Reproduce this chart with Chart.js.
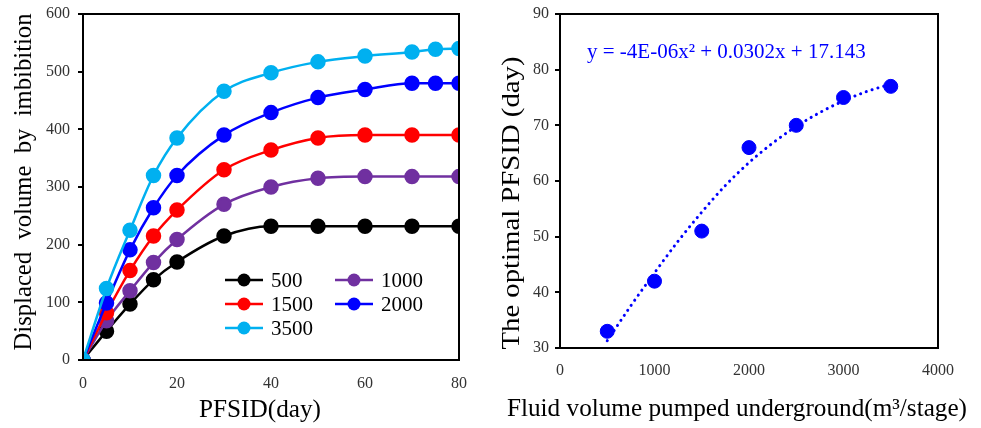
<!DOCTYPE html>
<html>
<head>
<meta charset="utf-8">
<script src="https://cdn.jsdelivr.net/npm/chart.js@4"></script>
<style>
  body { margin: 0; background: #fff; }
  #wrap { position: relative; width: 981px; height: 428px; }
  .box { position: absolute; top: 0; height: 428px; }
</style>
</head>
<body>
<div id="wrap">
  <div class="box" style="left:0;width:490px"><canvas id="left"></canvas></div>
  <div class="box" style="left:490px;width:491px"><canvas id="right"></canvas></div>
</div>
<script>
// left chart: displaced volume vs PFSID
const days_long = [0, 5, 10, 15, 20, 30, 40, 50, 60, 70, 75, 80];
const days_short = [0, 5, 10, 15, 20, 30, 40, 50, 60, 70, 80];
const v500 = [0, 50, 97, 139, 170, 215, 232, 232, 232, 232, 232];
const v1000 = [0, 68, 120, 169, 209, 270, 300, 315, 318, 318, 318];
const v1500 = [0, 82, 155, 215, 260, 330, 364, 385, 390, 390, 390];
const v2000 = [0, 99, 191, 264, 320, 390, 429, 455, 469, 480, 480, 480];
const v3500 = [0, 124, 225, 320, 385, 466, 498, 517, 527, 534, 539, 540];

// right chart: optimal PFSID vs fluid volume
const fluidVol = [500, 1000, 1500, 2000, 2500, 3000, 3500];
const optPFSID = [33, 42, 51, 66, 70, 75, 77];
// dotted trendline
const trendX = [500, 750, 1000, 1250, 1500, 1750, 2000, 2250, 2500, 2750, 3000, 3250, 3500];
const trendY = [31.3, 37.6, 43.5, 49.2, 54.4, 59.2, 63.3, 66.8, 69.8, 72.3, 74.4, 76.1, 77.4];

const serif = "'Liberation Serif', 'Times New Roman', serif";

function pts(xs, ys) {
  return ys.map((y, i) => ({x: xs[i], y: y}));
}

// box around the plot area
const frame = {
  id: 'frame',
  afterDatasetsDraw(chart) {
    const a = chart.chartArea, ctx = chart.ctx;
    ctx.save();
    ctx.strokeStyle = '#000';
    ctx.lineWidth = 2;
    ctx.strokeRect(a.left, a.top, a.right - a.left, a.bottom - a.top);
    ctx.restore();
  }
};

// axis titles, stretched along their length like in the original figure
function stretchedText(ctx, text, cx, cy, size, len, vertical) {
  ctx.save();
  ctx.font = size + 'px ' + serif;
  ctx.fillStyle = '#000';
  ctx.textAlign = 'center';
  ctx.textBaseline = 'middle';
  const w = ctx.measureText(text).width;
  ctx.translate(cx, cy);
  if (vertical) ctx.rotate(-Math.PI / 2);
  ctx.scale(len / w, 1);
  ctx.fillText(text, 0, 0);
  ctx.restore();
}

const axisTitles = {
  id: 'axisTitles',
  afterDraw(chart, args, opts) {
    const ctx = chart.ctx;
    opts.items.forEach(t => stretchedText(ctx, t.text, t.cx, t.cy, t.size, t.len, t.vertical));
  }
};

const leftSeries = [
  {label: '500', xs: days_short, ys: v500, color: '#000000'},
  {label: '1000', xs: days_short, ys: v1000, color: '#7030A0'},
  {label: '1500', xs: days_short, ys: v1500, color: '#FF0000'},
  {label: '2000', xs: days_long, ys: v2000, color: '#0000FF'},
  {label: '3500', xs: days_long, ys: v3500, color: '#00B0F0'}
];

// legend drawn inside the plot, two columns
const innerLegend = {
  id: 'innerLegend',
  afterDraw(chart) {
    const ctx = chart.ctx, a = chart.chartArea;
    const x0 = a.left + 142, y0 = a.top + 266;
    ctx.save();
    ctx.font = '21px ' + serif;
    ctx.textBaseline = 'middle';
    chart.data.datasets.forEach((ds, i) => {
      const col = i % 2, row = Math.floor(i / 2);
      const x = x0 + col * 110, y = y0 + row * 24;
      ctx.strokeStyle = ds.borderColor;
      ctx.lineWidth = 2.5;
      ctx.beginPath(); ctx.moveTo(x, y); ctx.lineTo(x + 38, y); ctx.stroke();
      ctx.fillStyle = ds.borderColor;
      ctx.beginPath(); ctx.arc(x + 19, y, 6.5, 0, Math.PI * 2); ctx.fill();
      ctx.fillStyle = '#000';
      ctx.fillText(ds.label, x + 46, y + 1);
    });
    ctx.restore();
  }
};

const plain = v => String(v);

new Chart(document.getElementById('left'), {
  type: 'line',
  data: {
    datasets: leftSeries.map(s => ({
      label: s.label,
      data: pts(s.xs, s.ys),
      borderColor: s.color,
      backgroundColor: s.color,
      borderWidth: 2.5,
      pointRadius: 6.5,
      pointHoverRadius: 6.5,
      cubicInterpolationMode: 'monotone',
      order: 5 - leftSeries.indexOf(s)
    }))
  },
  options: {
    responsive: true,
    maintainAspectRatio: false,
    animation: false,
    events: [],
    layout: {padding: {top: 14, right: 31, left: 0, bottom: 0}},
    plugins: {
      legend: {display: false}, tooltip: {enabled: false},
      axisTitles: {items: [
        {text: 'Displaced  volume  by  imbibition', cx: 24, cy: 182, size: 25, len: 337, vertical: true},
        {text: 'PFSID(day)', cx: 260, cy: 410, size: 25, len: 122, vertical: false}
      ]}
    },
    scales: {
      x: {
        type: 'linear', min: 0, max: 80,
        ticks: {stepSize: 20, color: '#333', font: {family: serif, size: 16}, padding: 6, callback: plain},
        grid: {display: false},
        border: {color: '#000', width: 2},
        afterFit(s) { s.height = 68; }
      },
      y: {
        min: 0, max: 600,
        ticks: {stepSize: 100, color: '#333', font: {family: serif, size: 16}, padding: 8, callback: plain},
        grid: {drawOnChartArea: false, tickLength: 5, color: '#000', lineWidth: 2},
        border: {color: '#000', width: 2},
        afterFit(s) { s.width = 83; s.paddingTop = 0; s.paddingBottom = 0; }
      }
    }
  },
  plugins: [frame, innerLegend, axisTitles]
});

// equation label of the fitted curve
const equation = {
  id: 'equation',
  afterDraw(chart) {
    const ctx = chart.ctx, a = chart.chartArea;
    ctx.save();
    ctx.font = '21px ' + serif;
    ctx.fillStyle = '#0000FF';
    ctx.textBaseline = 'middle';
    ctx.fillText('y = -4E-06x\u00B2 + 0.0302x + 17.143', a.left + 27, a.top + 38);
    ctx.restore();
  }
};

new Chart(document.getElementById('right'), {
  type: 'scatter',
  data: {
    datasets: [{
      data: pts(fluidVol, optPFSID),
      backgroundColor: '#0000FF',
      borderColor: '#0000FF',
      pointRadius: 7,
      pointHoverRadius: 7,
      showLine: false
    }, {
      data: pts(trendX, trendY),
      type: 'line',
      borderColor: '#0000FF',
      borderWidth: 3,
      borderDash: [0.1, 6],
      borderCapStyle: 'round',
      cubicInterpolationMode: 'monotone',
      pointRadius: 0,
      fill: false
    }]
  },
  options: {
    responsive: true,
    maintainAspectRatio: false,
    animation: false,
    events: [],
    layout: {padding: {top: 14, right: 43, left: 0, bottom: 0}},
    plugins: {
      legend: {display: false}, tooltip: {enabled: false},
      axisTitles: {items: [
        {text: 'The optimal PFSID (day)', cx: 22, cy: 203, size: 26, len: 293, vertical: true},
        {text: 'Fluid volume pumped underground(m\u00B3/stage)', cx: 247, cy: 409, size: 25, len: 460, vertical: false}
      ]}
    },
    scales: {
      x: {
        type: 'linear', min: 0, max: 4000,
        ticks: {stepSize: 1000, color: '#333', font: {family: serif, size: 16}, padding: 5, callback: plain},
        grid: {display: false},
        border: {color: '#000', width: 2},
        afterFit(s) { s.height = 80; }
      },
      y: {
        min: 30, max: 90,
        ticks: {stepSize: 10, color: '#333', font: {family: serif, size: 16}, padding: 6, callback: plain},
        grid: {drawOnChartArea: false, tickLength: 5, color: '#000', lineWidth: 2},
        border: {color: '#000', width: 2},
        afterFit(s) { s.width = 70; s.paddingTop = 0; s.paddingBottom = 0; }
      }
    }
  },
  plugins: [frame, equation, axisTitles]
});
</script>
</body>
</html>
